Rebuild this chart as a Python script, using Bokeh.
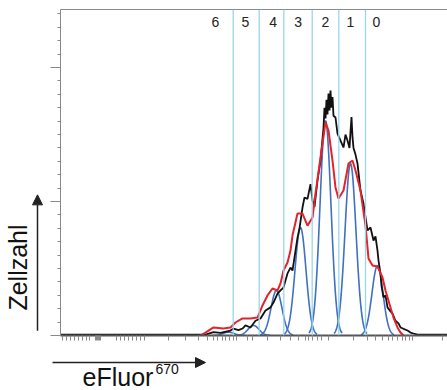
import numpy as np
from bokeh.plotting import figure
from bokeh.layouts import row, column
from bokeh.models import (Range1d, FixedTicker, LinearAxis, Span, Label, Arrow,
                          NormalHead, CustomJSTickFormatter)
from bokeh.embed import file_html
from bokeh.resources import INLINE
from bokeh.core.properties import value

# ---- data (x: display channel, y: cell count) ----
hist_x = [0, 145, 153, 160, 170, 173, 178, 182, 185, 190, 195, 200, 205, 210, 213,
          217, 220, 223, 227, 230, 232, 235, 237, 239, 242, 244, 247, 250, 252, 254,
          257, 260, 263, 264, 265, 266, 267, 268, 269, 270, 271, 272, 273, 275, 277, 280, 283, 285, 287,
          289, 290, 291, 292, 293, 295, 297, 300, 303, 307, 310, 313, 315, 317, 318, 320,
          321, 323, 325, 327, 330, 332, 335, 338, 340, 343, 347, 350, 353, 357, 387]
hist_y = [0.6, 0.6, 2.5, 2.0, 3.7, 5.2, 4.0, 5.2, 7.5, 6.0, 11.0, 12.7, 18.7, 21.0, 24.6,
          31.3, 33.6, 35.8, 46.3, 50.7, 48.5, 63.4, 73.0, 80.0, 95.5, 103.0, 102.0, 113.0, 101.0, 96.0,
          115.7, 130.6, 155.0, 170.0, 162.0, 176.0, 165.0, 180.6, 168.0, 182.8, 170.0, 178.0, 164.0, 162.7, 150.7, 145.5, 140.3, 150.0, 145.5,
          140.0, 152.0, 163.0, 148.0, 140.0, 135.0, 128.4, 108.0, 98.5, 78.4, 80.6, 70.9, 74.0, 63.4, 56.0, 46.0,
          37.0, 28.4, 30.0, 21.0, 18.0, 16.4, 11.0, 9.0, 6.0, 5.0, 3.7, 2.2, 1.5, 0.6, 0.6]

fit_x = [140, 145, 153, 163, 170, 175, 182, 190, 197, 202, 207, 212, 217, 220, 223,
         227, 230, 232, 237, 242, 247, 252, 255, 260, 265, 268, 272, 275, 278, 283,
         288, 292, 295, 300, 305, 308, 312, 317, 322, 325, 330, 333, 337, 340, 343]
fit_y = [0.0, 2.2, 6.0, 5.2, 6.0, 9.7, 12.7, 12.7, 13.4, 22.4, 29.9, 35.1, 33.6, 38.8, 48.5,
         54.5, 63.4, 74.6, 91.0, 91.0, 82.0, 88.0, 106.0, 132.8, 159.0, 153.0, 130.6, 110.4, 102.2, 108.2,
         128.4, 130.6, 123.1, 108.2, 82.0, 57.5, 52.2, 51.5, 43.3, 33.6, 20.9, 13.4, 6.0, 2.2, 0.0]

# generation peaks 0..6: centre, height, width
peak_center = [317, 290, 265, 240, 216, 193, 168]
peak_height = [52.2, 128.4, 160.4, 80.6, 33.6, 7.5, 2.5]
peak_sigma = [5.5, 5.5, 5.5, 5.5, 5.5, 5.5, 5.5]

gate_bounds = [172.7, 198.7, 223.3, 251.7, 278.3, 305.0]
gen_labels = ["6", "5", "4", "3", "2", "1", "0"]
gen_label_x = [155, 185, 212.7, 237.7, 265, 290, 316]
gen_label_y = 233.6

x_ticks = [1.7, 5.7, 9.7, 13.7, 17.7, 21.7, 25.7, 29.3, 35, 36, 37, 38, 39, 40,
           56, 60, 64, 68.3, 72.3, 76.3, 80.3, 83.7, 108.3, 125, 138.3, 147, 153,
           157.3, 161.7, 165, 169, 172.7, 176, 186.7, 191.7, 206.7, 220, 230, 238.3,
           245, 248.3, 252.3, 256.7, 261, 267.7, 293.3, 306.7, 315, 321.7, 327.7,
           332.3, 336.7, 341.7, 345, 349, 352.3, 381.7]
y_major = [0, 100, 200]
y_minor = [10, 20, 30, 40, 50, 60, 70, 80, 90, 110, 120, 130, 140, 150, 160, 170,
           180, 190, 210, 220, 230, 240]

y_title = "Zellzahl"
x_title = "eFluor"
x_title_sup = "670"

FONT = "Liberation Sans"
AX = "#8a8a8a"
INK = "#111111"


def blank_fig(w, h, xr, yr):
    f = figure(width=w, height=h, x_range=xr, y_range=yr, output_backend="svg",
               toolbar_location=None, x_axis_type=None, y_axis_type=None,
               min_border=0)
    f.outline_line_color = None
    f.grid.visible = False
    return f


# ---------------- main plot ----------------
p = figure(width=399, height=350, x_range=Range1d(0, 387), y_range=Range1d(0, 243.3),
           output_backend="svg", toolbar_location=None,
           min_border_left=12, min_border_right=0, min_border_top=9, min_border_bottom=15)
p.outline_line_color = None
p.grid.visible = False

blank = CustomJSTickFormatter(code="return ''")

p.xaxis.ticker = FixedTicker(ticks=x_ticks)
p.xaxis.formatter = blank
p.xaxis.major_label_standoff = 0
p.xaxis.major_tick_out = 5
p.xaxis.major_tick_in = 0
p.xaxis.minor_tick_out = 0
p.xaxis.axis_line_color = "#555555"
p.xaxis.axis_line_width = 2
p.xaxis.major_tick_line_color = AX
p.xaxis.major_tick_line_width = 1

p.yaxis.ticker = FixedTicker(ticks=y_major, minor_ticks=y_minor)
p.yaxis.formatter = blank
p.yaxis.major_label_standoff = 0
p.yaxis.major_tick_out = 10
p.yaxis.major_tick_in = 0
p.yaxis.minor_tick_out = 3
p.yaxis.minor_tick_in = 0
p.yaxis.axis_line_color = AX
p.yaxis.major_tick_line_color = AX
p.yaxis.minor_tick_line_color = AX

top = LinearAxis(ticker=FixedTicker(ticks=[]), formatter=blank, axis_line_color=AX,
                 major_tick_out=0, minor_tick_out=0, major_label_standoff=0)
p.add_layout(top, "above")

for b in gate_bounds:
    p.add_layout(Span(location=b, dimension="height", line_color="#9ad6ea", line_width=1.3))

for c, h, s in zip(peak_center, peak_height, peak_sigma):
    xs = np.linspace(c - 3 * s, c + 3 * s, 61)
    ys = h * np.exp(-0.5 * ((xs - c) / s) ** 2)
    p.line(xs, ys, line_color="#4070c0", line_width=1.6)

p.line(hist_x, hist_y, line_color=INK, line_width=1.8)
p.line(fit_x, fit_y, line_color="#e4232b", line_width=2)

p.text(x=gen_label_x, y=[gen_label_y] * len(gen_label_x), text=gen_labels,
       text_align="center", text_baseline="middle", text_font=value(FONT),
       text_font_size="14px", text_color="#222222")

# ---------------- left strip: y title + arrow (units = pixels, y downwards) ----------------
lf = blank_fig(48, 350, Range1d(0, 48), Range1d(350, 0))
lf.add_layout(Label(x=17, y=277, text=y_title, angle=90, angle_units="deg",
                    text_align="center", text_baseline="middle",
                    text_font=FONT, text_font_size="25px", text_color=INK))
lf.add_layout(Arrow(end=NormalHead(size=10, fill_color="#222222", line_color="#222222"),
                    x_start=37, y_start=345, x_end=37, y_end=199,
                    line_color="#222222", line_width=1.5))

# ---------------- bottom strip: x title + arrow ----------------
bf = blank_fig(447, 40, Range1d(0, 447), Range1d(40, 0))
bf.add_layout(Arrow(end=NormalHead(size=10, fill_color="#222222", line_color="#222222"),
                    x_start=52, y_start=12, x_end=205, y_end=12,
                    line_color="#222222", line_width=1.5))
bf.add_layout(Label(x=82, y=26, text=x_title, text_align="left", text_baseline="alphabetic",
                    text_font=FONT, text_font_size="25px", text_color=INK))
bf.add_layout(Label(x=155, y=18, text=x_title_sup, text_align="left", text_baseline="alphabetic",
                    text_font=FONT, text_font_size="14px", text_color=INK))

layout = column(row(lf, p), bf)
open("out.html", "w").write(file_html(layout, INLINE))
